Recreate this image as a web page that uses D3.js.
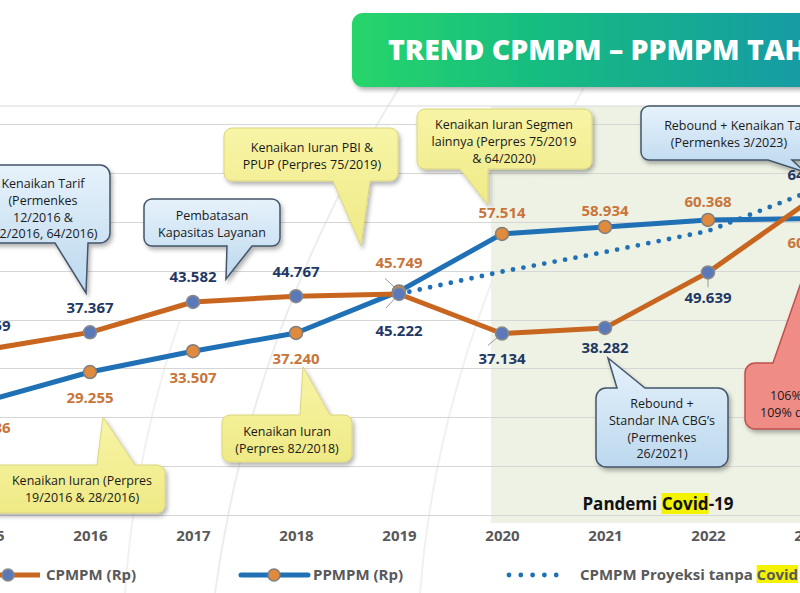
<!DOCTYPE html>
<html>
<head>
<meta charset="utf-8">
<script src="https://cdn.jsdelivr.net/npm/d3@7"></script>
<style>
  html, body { margin: 0; padding: 0; background: #ffffff; }
  svg { display: block; }
  text { font-family: "Open Sans", "Noto Sans", sans-serif; }
</style>
</head>
<body>
<svg id="chart" width="800" height="593"></svg>
<script>
// ---------------- data ----------------
const years = [2015, 2016, 2017, 2018, 2019, 2020, 2021, 2022, 2023];
const cpmpm = [33859, 37367, 43582, 44767, 45222, 37134, 38282, 49639, 64500];
const ppmpm = [23386, 29255, 33507, 37240, 45749, 57514, 58934, 60368, 60650];
const projYears = [2019, 2020, 2021, 2022, 2023];
const projCpmpm = [45222, 49800, 53800, 58100, 66300];
const yTicks = [0, 10000, 20000, 30000, 40000, 50000, 60000, 70000, 80000];
const seriesNames = ["CPMPM (Rp)", "PPMPM (Rp)", "CPMPM Proyeksi tanpa Covid (Rp)"];
const titleText = "TREND CPMPM – PPMPM TAHUN 2015 – 2023";

// label placement (vertical offsets of value labels, px)
const cpOff = [-24, -25, -25, -25, 37, 25, 20, 25, -25];
const ppOff = [27, 26, 26, 26, -29, -21, -16, -18, 24];

// ---------------- setup ----------------
const svg = d3.select("#chart");
const W = 800, H = 593;
const x = d3.scaleLinear().domain([2015, 2023]).range([-13, 811]);
const y = d3.scaleLinear().domain([0, 80000]).range([515, 124]);
const fmt = d3.formatLocale({decimal: ",", thousands: ".", grouping: [3], currency: ["Rp", ""]}).format(",d");

const C_OR = "#C8661F", C_BL = "#1F70B5", C_NAVY = "#1F3864", C_ORL = "#C8753A";

const defs = svg.append("defs");
const sh = defs.append("filter").attr("id", "shadow").attr("x", "-20%").attr("y", "-20%").attr("width", "150%").attr("height", "160%");
sh.append("feDropShadow").attr("dx", 2).attr("dy", 3).attr("stdDeviation", 2).attr("flood-color", "#000").attr("flood-opacity", 0.3);

const tg = defs.append("linearGradient").attr("id", "titleGrad").attr("x1", 0).attr("x2", 1).attr("y1", 0).attr("y2", 0);
tg.append("stop").attr("offset", "0%").attr("stop-color", "#27D56A");
tg.append("stop").attr("offset", "50%").attr("stop-color", "#13B587");
tg.append("stop").attr("offset", "100%").attr("stop-color", "#1A98A8");

const bg = defs.append("linearGradient").attr("id", "blueGrad").attr("x1", 0).attr("x2", 0).attr("y1", 0).attr("y2", 1);
bg.append("stop").attr("offset", "0%").attr("stop-color", "#E6F2FB");
bg.append("stop").attr("offset", "100%").attr("stop-color", "#BCD8EE");

const yg = defs.append("linearGradient").attr("id", "yelGrad").attr("x1", 0).attr("x2", 0).attr("y1", 0).attr("y2", 1);
yg.append("stop").attr("offset", "0%").attr("stop-color", "#F7F4A6");
yg.append("stop").attr("offset", "100%").attr("stop-color", "#EFEA86");

// faint decorative arcs
svg.append("path").attr("d", "M430,40 Q255,300 215,593").attr("fill", "none").attr("stroke", "#EDEDED").attr("stroke-width", 2);
svg.append("path").attr("d", "M600,60 Q440,330 420,593").attr("fill", "none").attr("stroke", "#F1F1F1").attr("stroke-width", 2);
svg.append("path").attr("d", "M180,320 Q135,450 125,593").attr("fill", "none").attr("stroke", "#F1F1F1").attr("stroke-width", 2);

// covid shaded region
svg.append("rect")
  .attr("x", x(2020) - 11).attr("y", 106)
  .attr("width", W - (x(2020) - 11) + 20).attr("height", 523 - 106)
  .attr("fill", "#EBF1E1").attr("opacity", 0.9);

// gridlines
svg.append("line").attr("x1", 0).attr("x2", W).attr("y1", 106).attr("y2", 106).attr("stroke", "#D9D9D9");
svg.append("g").selectAll("line").data(yTicks).join("line")
  .attr("x1", 0).attr("x2", W)
  .attr("y1", d => Math.round(y(d)) + 0.5).attr("y2", d => Math.round(y(d)) + 0.5)
  .attr("stroke", "#D6D6D6").attr("stroke-width", 1);

// x axis labels
const xAxis = d3.axisBottom(x).tickValues(years).tickFormat(d3.format("d")).tickSize(0).tickPadding(0);
const gx = svg.append("g").attr("transform", "translate(0,530)").call(xAxis);
gx.select(".domain").remove();
gx.selectAll("text").attr("font-size", 15).attr("font-weight", 700).attr("fill", "#595959")
  .attr("font-family", "'Open Sans', sans-serif").attr("dy", "0.72em");

// title box
svg.append("rect").attr("x", 352).attr("y", 13).attr("width", 480).attr("height", 74).attr("rx", 11)
  .attr("fill", "url(#titleGrad)").attr("filter", "url(#shadow)");
svg.append("text").attr("x", 388).attr("y", 60).text(titleText)
  .attr("font-size", 28.5).attr("font-weight", 800).attr("fill", "#ffffff");

// ---------------- callouts ----------------
function calloutPath(bx, by, w, h, r, side, a, b, tip) {
  const p = d3.path();
  p.moveTo(bx + r, by);
  if (side === "top") { p.lineTo(a, by); p.lineTo(tip[0], tip[1]); p.lineTo(b, by); }
  p.lineTo(bx + w - r, by);
  p.arcTo(bx + w, by, bx + w, by + r, r);
  p.lineTo(bx + w, by + h - r);
  p.arcTo(bx + w, by + h, bx + w - r, by + h, r);
  if (side === "bottom") { p.lineTo(b, by + h); p.lineTo(tip[0], tip[1]); p.lineTo(a, by + h); }
  p.lineTo(bx + r, by + h);
  p.arcTo(bx, by + h, bx, by + h - r, r);
  p.lineTo(bx, by + r);
  p.arcTo(bx, by, bx + r, by, r);
  p.closePath();
  return p.toString();
}
const styles = {
  blue: {fill: "url(#blueGrad)", stroke: "#44546A", sw: 1.5},
  yellow: {fill: "url(#yelGrad)", stroke: "#DAD57C", sw: 1},
  red: {fill: "#F08C86", stroke: "#C0504D", sw: 1.5}
};
function callout(c) {
  const s = styles[c.style];
  const g = svg.append("g");
  g.append("path").attr("d", calloutPath(c.x, c.y, c.w, c.h, c.r, c.side, c.a, c.b, c.tip))
    .attr("fill", s.fill).attr("stroke", s.stroke).attr("stroke-width", s.sw)
    .attr("filter", "url(#shadow)");
  const t = g.append("text").attr("font-size", 12.5).attr("fill", "#1a1a1a")
    .attr("text-anchor", c.anchor || "middle");
  c.lines.forEach((ln, i) => {
    t.append("tspan").attr("x", Array.isArray(c.tx) ? c.tx[i] : c.tx).attr("y", c.ty + i * 16.8).text(ln);
  });
}

// ---------------- lines ----------------
const line = d3.line().x(d => x(d[0])).y(d => y(d[1]));
const ppData = years.map((yr, i) => [yr, ppmpm[i]]);
const cpData = years.map((yr, i) => [yr, cpmpm[i]]);
const projData = projYears.map((yr, i) => [yr, projCpmpm[i]]);

svg.append("path").attr("d", line(ppData)).attr("fill", "none").attr("stroke", C_BL)
  .attr("stroke-width", 5).attr("stroke-linejoin", "round");
svg.append("path").attr("d", line(cpData)).attr("fill", "none").attr("stroke", C_OR)
  .attr("stroke-width", 5).attr("stroke-linejoin", "round");
svg.append("path").attr("d", line(projData)).attr("fill", "none").attr("stroke", C_BL)
  .attr("stroke-width", 4.8).attr("stroke-linecap", "round").attr("stroke-dasharray", "0 10.6");

// leader lines
const leaders = [
  [years.indexOf(2019), ppmpm, -14, -13],
  [years.indexOf(2019), cpmpm, -13, 14],
  [years.indexOf(2020), cpmpm, -14, 12],
  [years.indexOf(2022), cpmpm, 0, 15]
];
leaders.forEach(([i, arr, dx, dy]) => {
  svg.append("line").attr("x1", x(years[i])).attr("y1", y(arr[i]))
    .attr("x2", x(years[i]) + dx).attr("y2", y(arr[i]) + dy)
    .attr("stroke", "#9A9A9A").attr("stroke-width", 1);
});

// markers
svg.append("g").selectAll("circle").data(ppData).join("circle")
  .attr("cx", d => x(d[0])).attr("cy", d => y(d[1])).attr("r", 6.5)
  .attr("fill", "#E08A3E").attr("stroke", "#7F7F7F").attr("stroke-width", 1.5);
svg.append("g").selectAll("circle").data(cpData).join("circle")
  .attr("cx", d => x(d[0])).attr("cy", d => y(d[1])).attr("r", 6.5)
  .attr("fill", "#5B78B8").attr("stroke", "#8A8A8A").attr("stroke-width", 1.5);

// callouts
const callouts = [
  {style: "blue", x: -20, y: 165, w: 130, h: 78, r: 10, side: "bottom", a: 55, b: 88, tip: [86, 293],
   lines: ["Kenaikan Tarif", "(Permenkes", "12/2016 &", "52/2016, 64/2016)"], tx: [43, 43, 43, 45], ty: 188},
  {style: "blue", x: 144, y: 199, w: 136, h: 47, r: 8, side: "bottom", a: 227, b: 252, tip: [226, 279],
   lines: ["Pembatasan", "Kapasitas Layanan"], tx: 212, ty: 220},
  {style: "yellow", x: 224, y: 128, w: 174, h: 53, r: 8, side: "bottom", a: 333, b: 370, tip: [361, 246],
   lines: ["Kenaikan Iuran PBI &", "PPUP (Perpres 75/2019)"], tx: 312, ty: 152},
  {style: "yellow", x: 417, y: 109, w: 175, h: 60, r: 8, side: "bottom", a: 460, b: 488, tip: [488, 205],
   lines: ["Kenaikan Iuran Segmen", "lainnya (Perpres 75/2019", "& 64/2020)"], tx: 504, ty: 129},
  {style: "blue", x: 641, y: 106, w: 200, h: 54, r: 8, side: "bottom", a: 768, b: 792, tip: [805, 172],
   lines: ["Rebound + Kenaikan Tarif", "(Permenkes 3/2023)"], tx: [739, 729], ty: 130},
  {style: "blue", x: 596, y: 388, w: 132, h: 79, r: 10, side: "top", a: 617, b: 645, tip: [608, 358],
   lines: ["Rebound +", "Standar INA CBG’s", "(Permenkes", "26/2021)"], tx: 662, ty: 408},
  {style: "yellow", x: 222, y: 415, w: 130, h: 47, r: 8, side: "top", a: 300, b: 330, tip: [303, 367],
   lines: ["Kenaikan Iuran", "(Perpres 82/2018)"], tx: 287, ty: 436},
  {style: "yellow", x: -10, y: 465, w: 175, h: 48, r: 8, side: "top", a: 97, b: 135, tip: [103, 417],
   lines: ["Kenaikan Iuran (Perpres", "19/2016 & 28/2016)"], tx: 82, ty: 485},
  {style: "red", x: 745, y: 363, w: 100, h: 66, r: 10, side: "top", a: 773, b: 840, tip: [822, 222],
   lines: ["106% dari", "109% dari"], tx: [770, 760], ty: 400, anchor: "start"}
];
callouts.forEach(callout);

// value labels
function labels(data, off, color) {
  svg.append("g").selectAll("text").data(data).join("text")
    .attr("x", d => x(d[0])).attr("y", (d, i) => y(d[1]) + off[i])
    .attr("dy", "0.36em").attr("text-anchor", "middle")
    .attr("font-size", 15).attr("font-weight", 700).attr("fill", color)
    .text(d => fmt(d[1]));
}
labels(cpData, cpOff, C_NAVY);
labels(ppData, ppOff, C_ORL);

// highlight helper
function highlight(textSel, word) {
  const node = textSel.node();
  const full = node.textContent;
  const i0 = full.indexOf(word);
  const e0 = node.getExtentOfChar(i0), e1 = node.getExtentOfChar(i0 + word.length - 1);
  const bb = node.getBBox();
  d3.select(node.parentNode).insert("rect", () => node)
    .attr("x", e0.x).attr("y", bb.y + 1)
    .attr("width", e1.x + e1.width - e0.x).attr("height", bb.height - 2)
    .attr("fill", "#F3F300");
}

// Pandemi Covid-19
const pg = svg.append("g");
const pt = pg.append("text").attr("x", 658).attr("y", 510).attr("text-anchor", "middle")
  .attr("font-size", 17).attr("font-weight", 700).attr("fill", "#111").text("Pandemi Covid-19");
highlight(pt, "Covid");

// legend
const lg = svg.append("g");
lg.append("line").attr("x1", -5).attr("x2", 40).attr("y1", 575).attr("y2", 575).attr("stroke", C_OR).attr("stroke-width", 5);
lg.append("circle").attr("cx", 8).attr("cy", 575).attr("r", 6).attr("fill", "#5B78B8").attr("stroke", "#8A8A8A").attr("stroke-width", 1.5);
lg.append("text").attr("x", 46).attr("y", 580).attr("font-size", 15).attr("font-weight", 700).attr("fill", "#595959").text(seriesNames[0]);

lg.append("line").attr("x1", 241).attr("x2", 308).attr("y1", 575).attr("y2", 575).attr("stroke", C_BL).attr("stroke-width", 5).attr("stroke-linecap", "round");
lg.append("circle").attr("cx", 274).attr("cy", 575).attr("r", 6).attr("fill", "#E08A3E").attr("stroke", "#7F7F7F").attr("stroke-width", 1.5);
lg.append("text").attr("x", 313).attr("y", 580).attr("font-size", 15).attr("font-weight", 700).attr("fill", "#595959").text(seriesNames[1]);

lg.append("line").attr("x1", 509).attr("x2", 568).attr("y1", 575).attr("y2", 575).attr("stroke", C_BL)
  .attr("stroke-width", 4.8).attr("stroke-linecap", "round").attr("stroke-dasharray", "0 11.8");
const lt = lg.append("g").append("text").attr("x", 580).attr("y", 580).attr("font-size", 15).attr("font-weight", 700).attr("fill", "#595959").text(seriesNames[2]);
highlight(lt, "Covid");
</script>
</body>
</html>
